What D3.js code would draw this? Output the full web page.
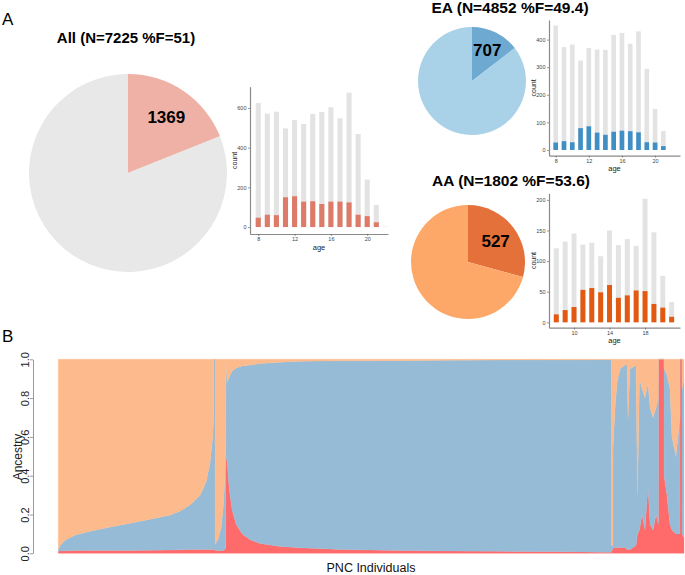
<!DOCTYPE html>
<html><head><meta charset="utf-8">
<script src="https://cdn.jsdelivr.net/npm/d3@7"></script>
<style>body{margin:0;background:#fff;} svg{display:block;font-family:"Liberation Sans",Arial,Helvetica,sans-serif;}</style>
</head><body><svg id="c" width="685" height="575"></svg>
<script>
// ---------- DATA ----------
const agesAll = [8,9,10,11,12,13,14,15,16,17,18,19,20,21,22];
const allTotal = [625,571,581,497,539,519,570,580,603,548,677,469,239,111,2];
const allSub   = [47,62,60,150,155,128,130,116,128,128,124,62,55,24,0];

const agesEA = [8,9,10,11,12,13,14,15,16,17,18,19,20,21,22];
const eaTotal = [451,373,382,324,370,364,363,417,424,385,430,294,149,69,1];
const eaSub   = [27,32,28,79,86,63,55,66,70,68,64,28,27,14,0];

const agesAA = [8,9,10,11,12,13,14,15,16,17,18,19,20,21];
const aaTotal = [121,132,145,127,130,108,150,126,136,125,202,147,76,33];
const aaSub   = [13,20,25,53,56,49,61,40,44,52,51,30,24,9];

const pieAll = [1369, 7225 - 1369];
const pieEA  = [707, 4852 - 707];
const pieAA  = [527, 1802 - 527];

const titleAll = "All (N=7225 %F=51)";
const titleEA  = "EA (N=4852 %F=49.4)";
const titleAA  = "AA (N=1802 %F=53.6)";

const ticksAllX = [8,12,16,20], ticksAllY = [0,200,400,600];
const ticksEAX = [8,12,16,20],  ticksEAY = [0,100,200,300,400];
const ticksAAX = [10,14,18],    ticksAAY = [0,50,100,150,200];

const nIndividuals = 7225;
const ancIdx = [0,23,81,196,369,600,831,1062,1293,1408,1524,1639,1708,1754,1783,1794,1795,1810,1811,1847,1881,1904,1922,1933,1934,1950,1974,2008,2054,2124,2216,2332,2563,2793,3255,3947,4524,5102,5794,6313,6387,6388,6405,6406,6429,6452,6486,6544,6567,6579,6602,6671,6688,6711,6740,6775,6809,6833,6867,6902,6930,6931,6994,6995,7028,7063,7086,7132,7178,7179,7202,7203,7225];
const ancRed = [0.01,0.012,0.013,0.014,0.014,0.015,0.015,0.016,0.017,0.018,0.02,0.02,0.02,0.02,0.02,0.02,0.02,0.02,0.015,0.015,0.015,0.015,0.02,0.03,0.5,0.47,0.33,0.22,0.15,0.10,0.07,0.05,0.035,0.028,0.02,0.015,0.012,0.01,0.008,0.006,0.006,0.02,0.02,0.03,0.03,0.03,0.03,0.03,0.02,0.02,0.02,0.04,0.10,0.12,0.20,0.12,0.35,0.15,0.12,0.20,0.15,1.0,1.0,0.40,0.30,0.15,0.12,0.10,0.10,1.0,1.0,0.10,0.08];
const ancBlue = [0.01,0.03,0.055,0.08,0.10,0.12,0.14,0.16,0.18,0.20,0.23,0.28,0.35,0.45,0.58,0.68,0.98,0.98,0.03,0.06,0.12,0.22,0.35,0.5,0.5,0.41,0.58,0.72,0.805,0.865,0.90,0.928,0.95,0.962,0.972,0.978,0.983,0.986,0.989,0.992,0.992,0.02,0.02,0.52,0.72,0.85,0.92,0.94,0.95,0.68,0.93,0.93,0.20,0.78,0.65,0.68,0.53,0.60,0.58,0.55,0.65,0,0,0.55,0.62,0.70,0.48,0.40,0.60,0,0,0.75,0.82];

// ---------- DRAW ----------
const svg = d3.select("#c");
const FONT = '"Liberation Sans",Arial,Helvetica,sans-serif';

// panel letters
svg.append("text").attr("x",2).attr("y",25).attr("font-size",17).text("A");
svg.append("text").attr("x",2).attr("y",342).attr("font-size",17).text("B");

function pie(cfg){
  const g = svg.append("g").attr("transform",`translate(${cfg.cx},${cfg.cy})`);
  const arcs = d3.pie().sort(null).value(d=>d)(cfg.values);
  const arc = d3.arc().innerRadius(0).outerRadius(cfg.r);
  g.selectAll("path").data(arcs).join("path")
    .attr("d",arc).attr("fill",(d,i)=>cfg.colors[i]);
  const lab = d3.arc().innerRadius(0).outerRadius(cfg.r*cfg.lf);
  const c = lab.centroid(arcs[0]);
  g.append("text").attr("x",c[0]).attr("y",c[1]).attr("dy","0.36em")
    .attr("text-anchor","middle").attr("font-weight","bold").attr("font-size",cfg.fs)
    .text(cfg.values[0]);
  svg.append("text").attr("x",cfg.tx).attr("y",cfg.ty).attr("text-anchor","middle")
    .attr("font-weight","bold").attr("font-size",cfg.tfs).text(cfg.title);
}

pie({cx:128,cy:173,r:99,values:pieAll,colors:["#efb0a5","#e8e8e8"],lf:1.38,fs:17,title:titleAll,tx:126,ty:43,tfs:15});
pie({cx:472,cy:81,r:54,values:pieEA,colors:["#6ea9d1","#a9d1e7"],lf:1.28,fs:17,title:titleEA,tx:510,ty:13,tfs:15.5});
pie({cx:468,cy:262,r:57,values:pieAA,colors:["#e4703a","#fda868"],lf:1.22,fs:17,title:titleAA,tx:511,ty:186,tfs:15.5});

function bars(cfg){
  const g = svg.append("g");
  const x = d3.scaleLinear().domain(cfg.xd).range([cfg.left,cfg.right]);
  const y = d3.scaleLinear().domain(cfg.yd).range([cfg.bottom,cfg.top]);
  const hw = 0.28;
  g.selectAll("rect.t").data(cfg.ages).join("rect").attr("class","t")
    .attr("x",d=>x(d-hw)).attr("width",d=>x(d+hw)-x(d-hw))
    .attr("y",(d,i)=>y(cfg.total[i])).attr("height",(d,i)=>y(0)-y(cfg.total[i]))
    .attr("fill","#e3e3e3");
  g.selectAll("rect.s").data(cfg.ages).join("rect").attr("class","s")
    .attr("x",d=>x(d-hw)).attr("width",d=>x(d+hw)-x(d-hw))
    .attr("y",(d,i)=>y(cfg.sub[i])).attr("height",(d,i)=>y(0)-y(cfg.sub[i]))
    .attr("fill",cfg.color);
  const ay = g.append("g").attr("transform",`translate(${cfg.left},0)`)
    .call(d3.axisLeft(y).tickValues(cfg.yt).tickSize(2).tickSizeOuter(0).tickPadding(1.5));
  const ax = g.append("g").attr("transform",`translate(0,${cfg.bottom})`)
    .call(d3.axisBottom(x).tickValues(cfg.xt).tickSize(2).tickSizeOuter(0).tickPadding(1.2));
  [ay,ax].forEach(a=>{
    a.select(".domain").attr("stroke","#8a8a8a").attr("stroke-width",1.2);
    a.selectAll(".tick line").attr("stroke","#555").attr("stroke-width",0.6);
    a.selectAll("text").attr("font-size",5.5).attr("fill","#444").attr("font-family",FONT);
  });
  g.append("text").attr("x",(cfg.left+cfg.right)/2).attr("y",cfg.bottom+15.5)
    .attr("text-anchor","middle").attr("font-size",7.5).attr("fill","#222").text("age");
  g.append("text").attr("transform",`translate(${cfg.left-13},${(cfg.top+cfg.bottom)/2}) rotate(-90)`)
    .attr("text-anchor","middle").attr("font-size",7).attr("fill","#222").text("count");
}

bars({ages:agesAll,total:allTotal,sub:allSub,color:"#dd7a68",xd:[7.09,22.29],yd:[-35,707],
      left:250,right:388,bottom:234,top:86.7,xt:ticksAllX,yt:ticksAllY});
bars({ages:agesEA,total:eaTotal,sub:eaSub,color:"#3f8fc5",xd:[7.19,23.01],yd:[-20.7,471],
      left:549,right:680,bottom:155.7,top:20,xt:ticksEAX,yt:ticksEAY});
bars({ages:agesAA,total:aaTotal,sub:aaSub,color:"#e25a12",xd:[7.18,21.94],yd:[-8.8,210.8],
      left:549,right:680,bottom:327.7,top:193.3,xt:ticksAAX,yt:ticksAAY});

// Ancestry stacked plot
const rows = ancIdx.map((d,i)=>({idx:d, red:ancRed[i], blue:ancBlue[i], orange:Math.max(0,1-ancRed[i]-ancBlue[i])}));
const xa = d3.scaleLinear().domain([0,nIndividuals]).range([58.3,684]);
const ya = d3.scaleLinear().domain([0,1]).range([553.3,359.3]);
const stack = d3.stack().keys(["red","blue","orange"])(rows);
const ancColors = {red:"#ff6b6b", blue:"#95bbd7", orange:"#fdba8c"};
const area = d3.area().x(d=>xa(d.data.idx)).y0(d=>ya(d[0])).y1(d=>ya(d[1]));
svg.append("g").selectAll("path").data(stack).join("path")
  .attr("d",area).attr("fill",d=>ancColors[d.key]).attr("stroke",d=>ancColors[d.key]).attr("stroke-width",0.3);

const yax = svg.append("g").attr("transform","translate(33,0)")
  .call(d3.axisLeft(ya).tickValues([0,0.2,0.4,0.6,0.8,1.0]).tickFormat(d3.format(".1f")).tickSize(3).tickSizeOuter(0));
yax.select(".domain").attr("stroke","#9a9a9a");
yax.selectAll(".tick line").attr("stroke","#9a9a9a");
yax.selectAll(".tick text").attr("transform","rotate(-90)").attr("x",0).attr("y",-4).attr("dy",0)
  .attr("text-anchor","middle").attr("font-size",11).attr("fill","#222").attr("font-family",FONT);
svg.append("text").attr("transform","translate(22,457) rotate(-90)").attr("text-anchor","middle")
  .attr("font-size",12).attr("fill","#222").text("Ancestry");
svg.append("text").attr("x",371).attr("y",572).attr("text-anchor","middle")
  .attr("font-size",12.5).attr("fill","#111").text("PNC Individuals");
</script></body></html>
